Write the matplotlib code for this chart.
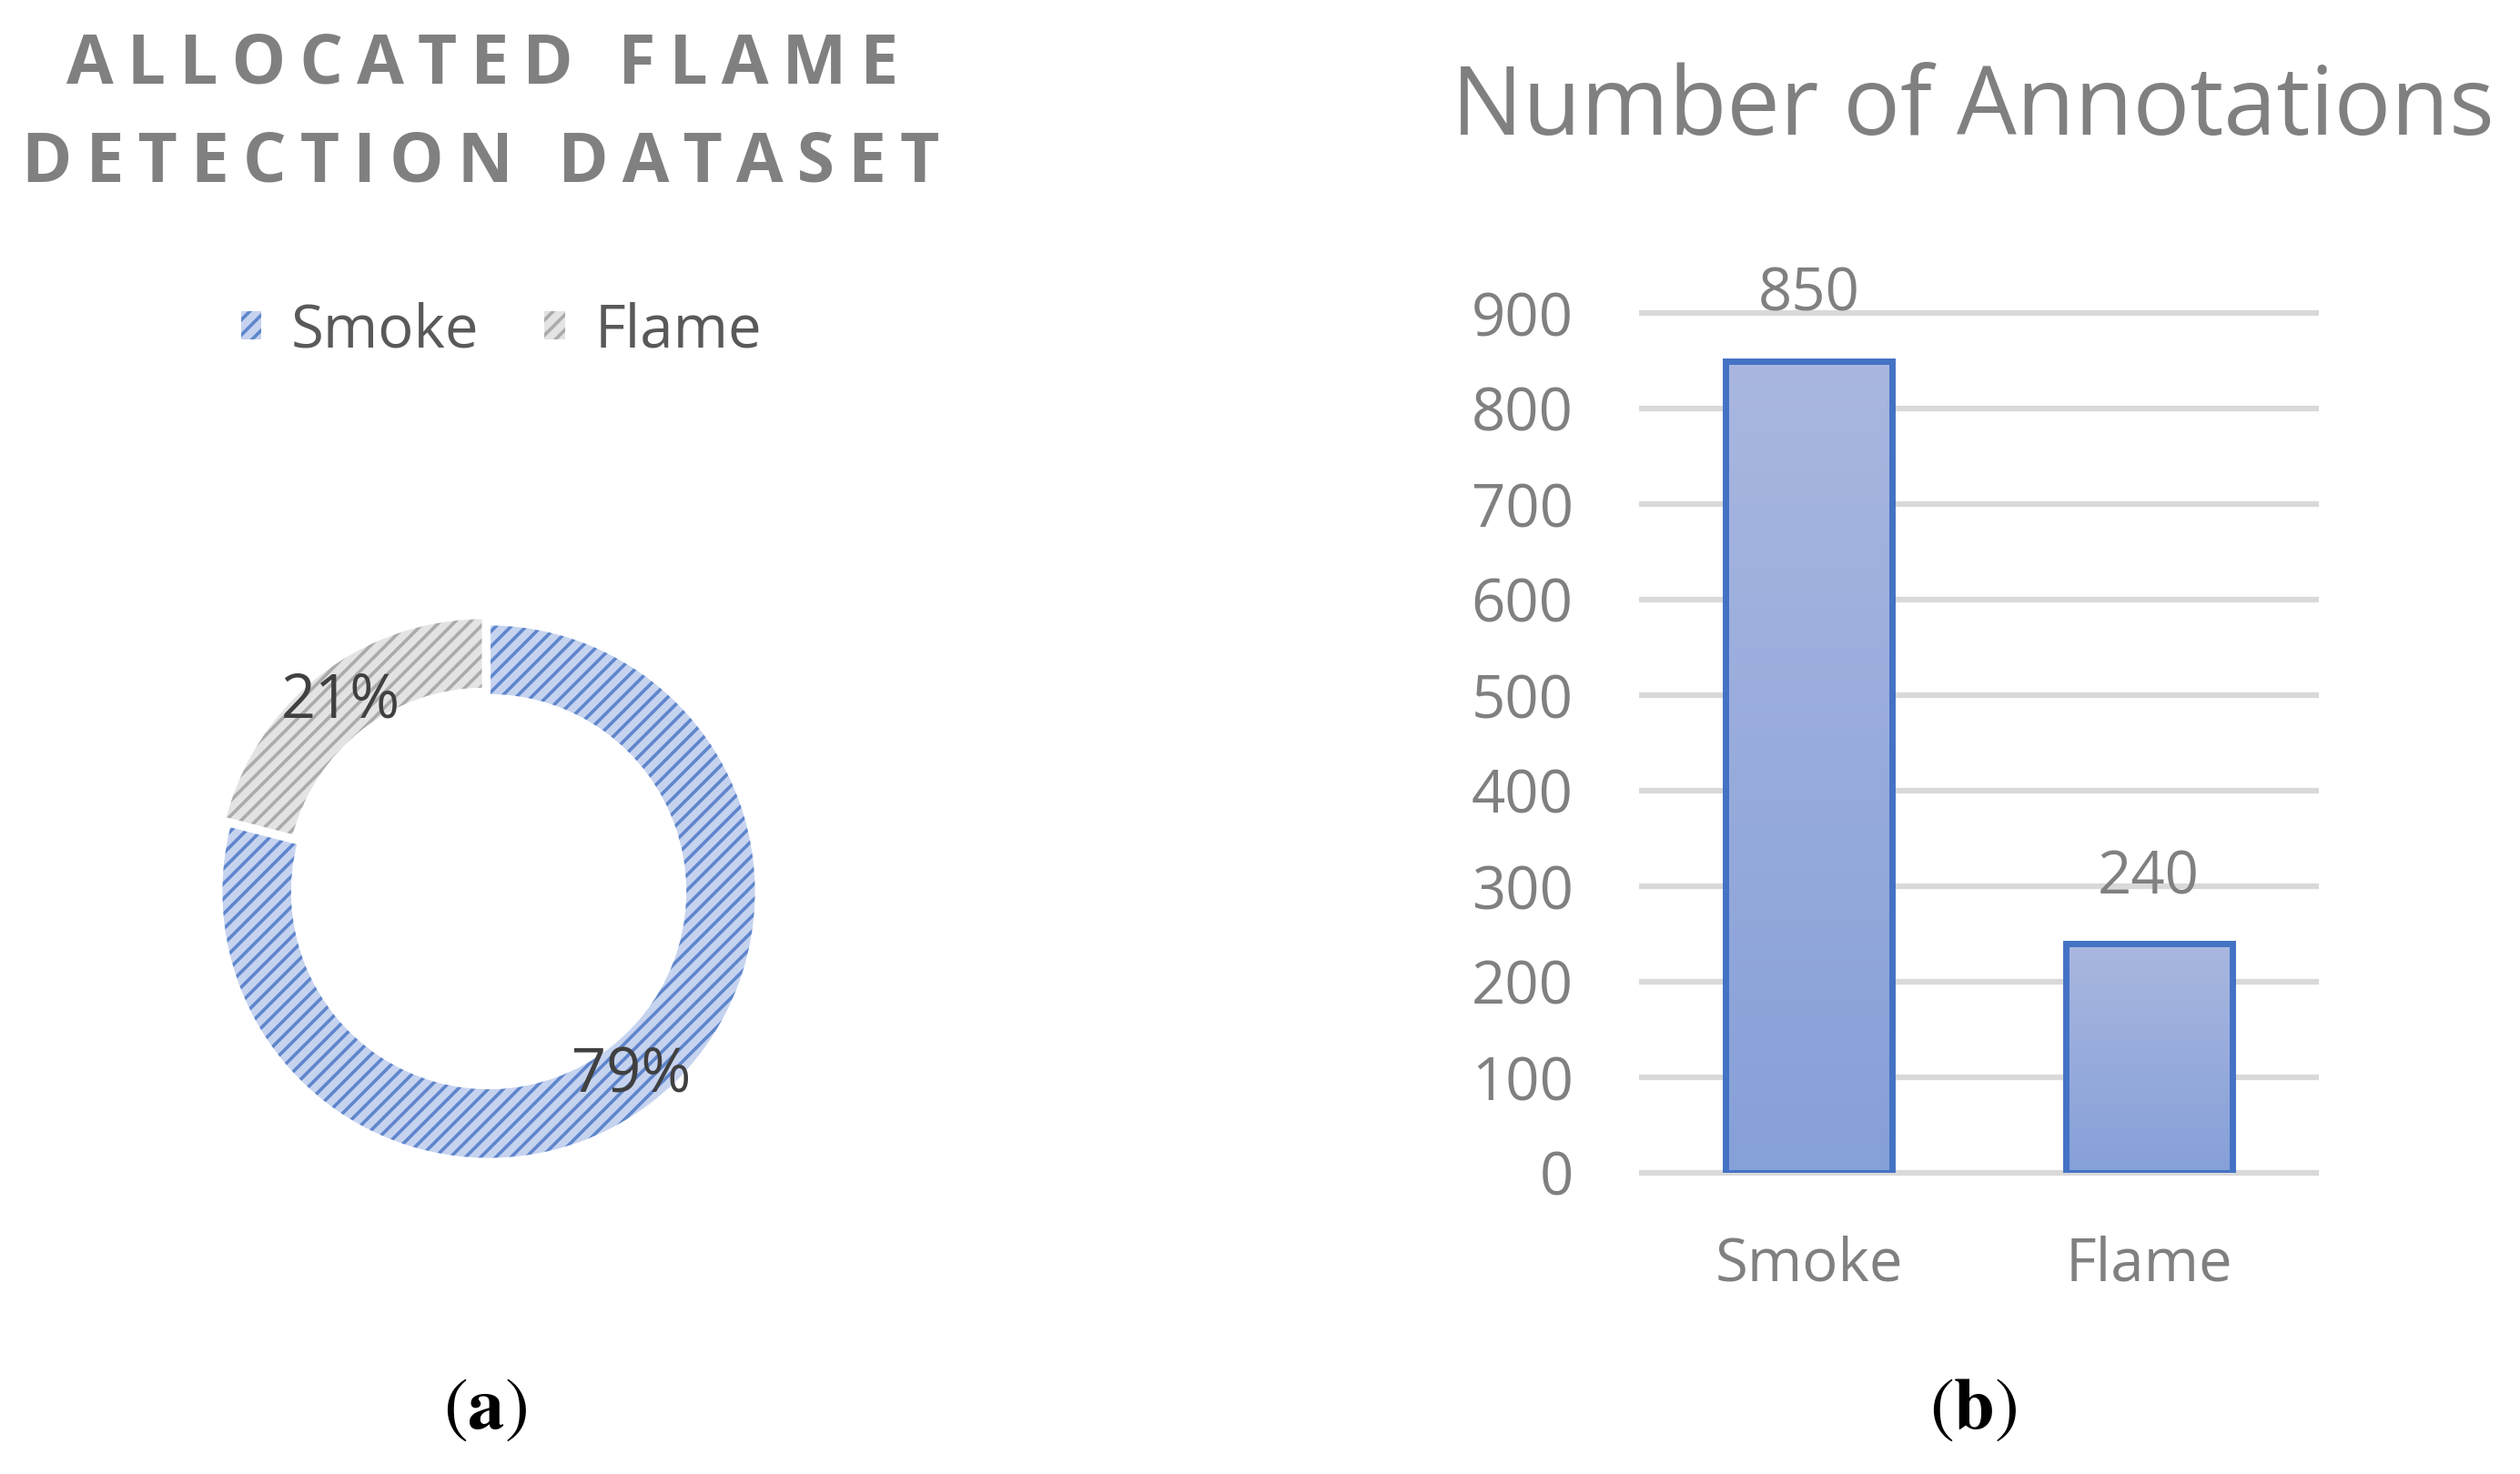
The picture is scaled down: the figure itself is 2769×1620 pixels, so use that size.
import numpy as np
import matplotlib.pyplot as plt
from matplotlib.colors import LinearSegmentedColormap

plt.rcParams['font.family'] = ['Open Sans', 'DejaVu Sans']
plt.rcParams['mathtext.fontset'] = 'stix'
plt.rcParams['hatch.linewidth'] = 2.6

# datos
categories = ['Smoke', 'Flame']
shares = [79, 21]          # % del dataset
annotations = [850, 240]   # numero de anotaciones
y_ticks = [0, 100, 200, 300, 400, 500, 600, 700, 800, 900]

fill_colors = ['#c6d3ef', '#e3e3e3']
hatch_colors = [(0.27, 0.45, 0.77, 0.8), (0.62, 0.62, 0.62, 0.8)]

W, H = 2769, 1620
fig = plt.figure(figsize=(W / 100, H / 100), dpi=100)


def spaced(s):
    # letras separadas como en el titulo de Excel
    return '\u200a\u200a'.join(s)


# ---- (a) donut ----
ax1 = fig.add_axes([207 / W, (H - 1310) / H, 660 / W, 660 / H])
explode = [0, 0.03]
wedges, _, pct_texts = ax1.pie(shares, startangle=90, counterclock=False, explode=explode,
                               colors=fill_colors, radius=1,
                               wedgeprops=dict(width=0.27, linewidth=0),
                               autopct='%.0f%%', pctdistance=0.87,
                               textprops=dict(color='#404040', fontsize=48))
for w, hc in zip(wedges, hatch_colors):
    w.set_edgecolor(hc)
    w.set_linewidth(0)
    w.set_hatch('//')

# borde blanco entre porciones
outline, _ = ax1.pie(shares, startangle=90, counterclock=False, explode=explode, radius=1,
                     colors=['none', 'none'],
                     wedgeprops=dict(width=0.27, edgecolor='white', linewidth=3))
for t in pct_texts:
    t.set_zorder(5)

ax1.set_xlim(-1.12, 1.12)
ax1.set_ylim(-1.12, 1.12)
ax1.axis('off')

ax1.legend(wedges, categories, loc='center', bbox_to_anchor=(551 / W, 1 - 364 / H),
           bbox_transform=fig.transFigure, ncol=2, frameon=False, fontsize=47,
           handlelength=0.35, handleheight=0.35, handletextpad=0.5, columnspacing=1.1,
           labelcolor='#595959')

fig.text(530 / W, 1 - 72 / H, spaced('ALLOCATED FLAME'), ha='center', va='center',
         fontsize=54, fontweight='bold', color='#808080')
fig.text(528 / W, 1 - 180 / H, spaced('DETECTION DATASET'), ha='center', va='center',
         fontsize=54, fontweight='bold', color='#808080')

# ---- (b) barras ----
ax2 = fig.add_axes([1801 / W, (H - 1289) / H, 747 / W, 945 / H])
x = np.arange(len(categories))
bars = ax2.bar(x, annotations, width=0.49, facecolor='none', edgecolor='#4472c4',
               linewidth=5, zorder=3)

grad = np.linspace(0, 1, 256).reshape(-1, 1)
cmap = LinearSegmentedColormap.from_list('barfill', ['#86a0d8', '#a9b7e0'])
for b in bars:
    bx, by = b.get_x(), b.get_y()
    im = ax2.imshow(grad, extent=[bx, bx + b.get_width(), by, by + b.get_height()],
                    origin='lower', cmap=cmap, aspect='auto', zorder=2)
    im.set_clip_path(b)

ax2.hlines(y_ticks, -0.5, 1.5, colors='#d9d9d9', linewidth=4.5, zorder=1, clip_on=False)
ax2.set_xlim(-0.5, 1.5)
ax2.set_ylim(0, 900)
ax2.set_yticks(y_ticks)
ax2.set_xticks(x, categories)
ax2.tick_params(axis='y', length=0, pad=52, labelsize=47, labelcolor='#808080')
ax2.tick_params(axis='x', length=0, pad=49, labelsize=47, labelcolor='#808080')
for s in ax2.spines.values():
    s.set_visible(False)

ax2.bar_label(bars, padding=28, fontsize=47, color='#808080')

fig.text(2168 / W, 1 - 121 / H, 'Number of Annotations', ha='center', va='center',
         fontsize=75, color='#808080')

# etiquetas de subfigura
fig.text(533 / W, 1 - 1549 / H, r'$(\mathbf{a})$', ha='center', va='center', fontsize=58)
fig.text(2168 / W, 1 - 1549 / H, r'$(\mathbf{b})$', ha='center', va='center', fontsize=58)

fig.savefig('out.png', dpi=100)
